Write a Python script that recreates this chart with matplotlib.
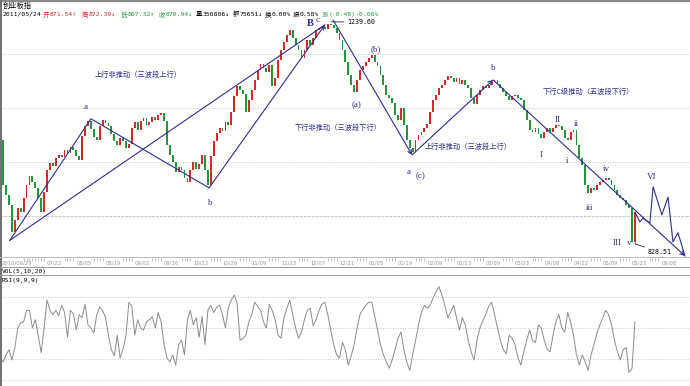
import matplotlib
matplotlib.use('Agg')
import matplotlib.pyplot as plt
import numpy as np

plt.rcParams['font.family'] = ['DejaVu Sans', 'Noto Sans CJK SC']

# ChiNext index daily closes, 2010/06/29 .. 2011/05/24
close = [
    1030, 1021,
    937, 919, 900, 850, 873, 895, 887, 913, 937, 954,
    943, 932, 913, 887, 924, 965, 978, 973, 987, 993,
    989, 1002, 997, 1008, 1002, 991, 984, 1028, 1047, 1056,
    1041, 1026, 1021, 1047, 1058, 1052, 1047, 1032, 1019, 1011,
    1024, 1018,
    1006, 1013, 1043, 1054, 1039, 1056, 1061, 1048, 1054,
    1063, 1058, 1067, 1071, 1056, 1011, 993, 980, 961, 971,
    965, 950, 943, 965, 980, 967, 976, 993, 965, 937,
    991, 1019, 1034, 1043, 1037, 1054, 1048, 1073, 1102, 1121,
    1113, 1105,
    1073, 1095, 1113, 1132, 1150, 1161, 1154, 1147, 1160,
    1121, 1136, 1169, 1187, 1202, 1215, 1224, 1210, 1197, 1187,
    1173, 1187, 1206, 1197, 1210, 1224, 1228, 1230, 1226, 1236,
    1233, 1228, 1219, 1206, 1187, 1165, 1141, 1123, 1110, 1132,
    1150, 1158,
    1165, 1173, 1178, 1165, 1158, 1141, 1123, 1104, 1098,
    1089, 1067, 1058, 1080, 1048, 1021, 1006, 998, 1021, 1030,
    1036, 1043, 1050, 1073, 1095, 1104, 1117, 1123, 1132, 1139,
    1136, 1128, 1136, 1124, 1132, 1123, 1117, 1098, 1087, 1104,
    1113, 1120,
    1117, 1123, 1128, 1132, 1124, 1117, 1110, 1102, 1095,
    1102, 1104, 1098, 1095, 1076, 1058, 1039, 1036, 1043, 1032,
    1024, 1036, 1043, 1036, 1043, 1048, 1047, 1039, 1024, 1021,
    1036, 1039, 1011, 987, 974, 937, 923, 932, 928, 937,
    943, 946,
    950, 947, 937, 928, 919, 913, 910, 900, 895,
    832, 887]
first_open = 1036
low_price = 828.51
high_price = 1239.60

rsi = [
    25, 21,
    17, 24, 29, 19, 31, 50, 55, 56, 67, 67,
    50, 58, 43, 26, 50, 77, 67, 63, 67, 62,
    72, 65, 41, 67, 64, 48, 63, 60, 73, 53,
    50, 45, 63, 70, 67, 60, 43, 29, 23, 43,
    21, 30,
    43, 75, 71, 43, 58, 50, 48, 56, 58,
    61, 50, 65, 56, 34, 21, 17, 24, 14, 34,
    38, 24, 58, 67, 53, 60, 41, 61, 34, 67,
    72, 65, 70, 72, 63, 50, 70, 77, 82, 74,
    38, 40,
    43, 56, 63, 75, 71, 67, 56, 50, 73,
    67, 58, 43, 40, 60, 69, 77, 63, 50, 40,
    46, 58, 67, 69, 52, 58, 67, 73, 75, 63,
    48, 34, 24, 21, 36, 29, 14, 23, 34, 50,
    63, 68,
    72, 75, 75, 62, 48, 34, 24, 17, 11,
    19, 29, 40, 46, 29, 17, 9, 24, 38, 53,
    65, 72, 69, 72, 79, 85, 90, 82, 72, 60,
    65, 72, 60, 48, 60, 53, 38, 27, 19, 38,
    50, 57,
    63, 71, 75, 63, 50, 38, 29, 25, 43,
    40, 34, 21, 14, 27, 38, 48, 38, 36, 53,
    50, 38, 29, 27, 43, 56, 63, 50, 46, 65,
    56, 43, 24, 14, 24, 17, 9, 24, 34, 45,
    53, 60,
    67, 63, 53, 38, 27, 19, 29, 31, 7,
    11, 56]

date_labels = ['2010/06/29', '07/22', '08/05', '08/19', '09/02', '09/16', '10/12',
               '10/26', '11/09', '11/23', '12/07', '12/21', '01/05', '01/19', '02/09',
               '02/23', '03/09', '03/23', '04/08', '04/22', '05/09', '05/23', '06/08']
date_pos = [0] + [17 + 10 * k for k in range(22)]

# quote line of the last day
quote_keys = ['开', '高', '低', '收', '量', '额', '换', '振', '涨']
quote_vals = ['871.54↑', '872.39↓', '867.32↑', '870.94↓', '356806↓', '75651↓',
              '0.00%', '0.58%', '(-0.48)-0.06%']

# wave pivots (day index, price)
abc_day = [4.3, 32.0, 72.4, 112.0]
abc_price = [835, 1060, 932, 1234]
leg_down_day = [114.8, 141.8]
leg_down_price = [1243, 993]
leg_up_day = [141.8, 169.5]
leg_up_price = [993, 1132]
trend_day = [169.5, 235.1]
trend_price = [1132, 806]
proj_day = [218.0, 219.7, 220.7, 223.1, 224.2, 227.2, 229.3, 231.0, 232.7, 235.1]
proj_price = [887, 869, 876, 867, 934, 882, 915, 832, 849, 806]

RED = '#d42a2a'
GREEN = '#22963a'
NAVY = '#2e2e90'
W, H = 690, 386

fig = plt.figure(figsize=(6.9, 3.86), dpi=100)


def px_axes(top, bottom):
    a = fig.add_axes([0, 1 - bottom / H, 1, (bottom - top) / H])
    a.set_axis_off()
    a.set_xlim(2.7 / 2.925, (W + 2.7) / 2.925)
    return a


ax = px_axes(2, 257)
ax.set_ylim(804.0, 1276.3)
dax = px_axes(257, 267)
dax.set_ylim(0, 1)
rax = px_axes(275, 386)
rax.set_ylim(-6.2, 101.3)

# grid
for g in [980, 1080, 1180]:
    ax.axhline(g, color='#b4b4b4', lw=0.6, ls=(0, (1, 2)), zorder=0)
ax.axhline(880, color='#c8c8c8', lw=0.7, ls=(0, (3, 1)), zorder=0)
for g in [80, 50, 20, 0]:
    rax.axhline(g, color='#b4b4b4', lw=0.6, ls=(0, (1, 2)), zorder=0)

# candles
c = np.array(close, float)
o = np.r_[first_open, c[:-1]]
days = np.arange(len(c))
cols = np.where(c >= o, RED, GREEN)
ax.bar(days, np.maximum(np.abs(c - o), 1.5), bottom=np.minimum(o, c), width=0.62,
       color=cols, linewidth=0, zorder=2)
ax.vlines(days[-1], low_price, o[-1], color=RED, lw=0.6, zorder=2)

# wave lines
lk = dict(color=NAVY, lw=0.8, zorder=3)
ax.plot(abc_day[:3], abc_price[:3], **lk)
ax.plot([abc_day[0], abc_day[3]], [abc_price[0], abc_price[3]], **lk)
ax.plot(proj_day, proj_price, **lk)


def arrow(d, p):
    ax.annotate('', xy=(d[1], p[1]), xytext=(d[0], p[0]),
                arrowprops=dict(arrowstyle='->', color=NAVY, lw=0.8, mutation_scale=7,
                                shrinkA=0, shrinkB=0), zorder=3)


arrow(abc_day[2:], abc_price[2:])
arrow(leg_down_day, leg_down_price)
arrow(leg_up_day, leg_up_price)
arrow(trend_day, trend_price)

mono = ['DejaVu Sans Mono']
peak = int(np.argmax(c))
ax.annotate('1239.60', xy=(peak + 1, high_price), xytext=(119.5, 1239), va='center',
            fontsize=4.8, family=mono,
            arrowprops=dict(arrowstyle='-', lw=0.5, color='k', shrinkA=0, shrinkB=0))
ax.annotate('828.51', xy=(days[-1], low_price), xytext=(222.2, 813), va='center',
            fontsize=4.8, family=mono,
            arrowprops=dict(arrowstyle='-', lw=0.5, color='k', shrinkA=0, shrinkB=0))

# RSI
rax.plot(days, rsi, color='#8c8c8c', lw=0.7)

# date band
xlo = dax.get_xlim()[0]
spans = []
for lab, pos in zip(date_labels, date_pos):
    x = max(pos, xlo + 0.4)
    dax.text(x, 0.42, lab, ha='left', va='center', fontsize=3.8, color='#9a9a9a',
             family=['DejaVu Sans'])
    spans.append((x - 0.6, x + (7.5 if len(lab) > 5 else 5.2)))
tick_days = [d for d in range(len(c) + 12) if not any(a <= d <= b for a, b in spans)]
dax.vlines(tick_days, 0.62, 0.95, color='#a8a8a8', lw=0.5)

# overlay in pixel space for frame and texts
ov = fig.add_axes([0, 0, 1, 1])
ov.set_axis_off()
ov.set_xlim(0, W)
ov.set_ylim(H, 0)
ov.plot([0, W], [0.7, 0.7], color='#8a8a8a', lw=1.6)
ov.plot([0.6, 0.6], [0, H], color='#707070', lw=1.4)
for yy, cc in [(257, '#bdbdbd'), (267, '#9c9c9c'), (275, '#9c9c9c')]:
    ov.plot([0, W], [yy, yy], color=cc, lw=0.7)

ov.text(3, 5.5, '创业板指', fontsize=5.2, va='center', family=['Noto Sans CJK SC'])
ov.text(3, 14.5, '2011/05/24', fontsize=4.6, va='center', family=mono, color='k')
quote_cols = [RED, RED, GREEN, GREEN, 'k', 'k', 'k', 'k', GREEN]
quote_x = [43, 82, 121, 159, 196, 233, 265, 293, 322]
for k, v, col, x in zip(quote_keys, quote_vals, quote_cols, quote_x):
    ov.text(x, 14.5, k, fontsize=4.7, va='center', family=['Noto Sans CJK SC'], color=col)
    ov.text(x + 6.5, 14.5, v, fontsize=4.6, va='center', family=mono, color=col)

ov.text(2, 271, 'VOL(5,10,20)', fontsize=4.5, va='center', family=mono)
ov.text(2, 280.5, 'RSI(9,9,9)', fontsize=4.5, va='center', family=mono)

cjk = dict(fontsize=5.2, va='center', ha='left', color=NAVY, family=['Noto Sans CJK SC'])
ov.text(95, 75, '上行非推动（三波段上行）', **cjk)
ov.text(295, 128, '下行非推动（三波段下行）', **cjk)
ov.text(425, 147, '上行非推动（三波段上行）', **cjk)
ov.text(543, 92, '下行C级推动（五波段下行）', **cjk)

serif = ['Liberation Serif', 'DejaVu Serif']
wave_labels = [('a', 86, 107), ('b', 210, 203), ('c', 318, 20), ('(a)', 357, 105),
               ('(b)', 376, 49), ('a', 409, 172), ('(c)', 421, 176), ('b', 493, 68),
               ('I', 541, 155), ('II', 558, 120), ('ii', 576, 124), ('i', 567, 161),
               ('iii', 590, 208), ('iv', 606, 169), ('III', 617, 243), ('v', 629, 243),
               ('VI', 652, 177)]
for t, x, y in wave_labels:
    ov.text(x, y, t, fontsize=6.5, ha='center', va='center', color=NAVY, family=serif)
ov.text(310, 24, 'B', fontsize=7.5, ha='center', va='center', color=NAVY, family=serif,
        fontweight='bold')

fig.savefig('out.png', dpi=100)
